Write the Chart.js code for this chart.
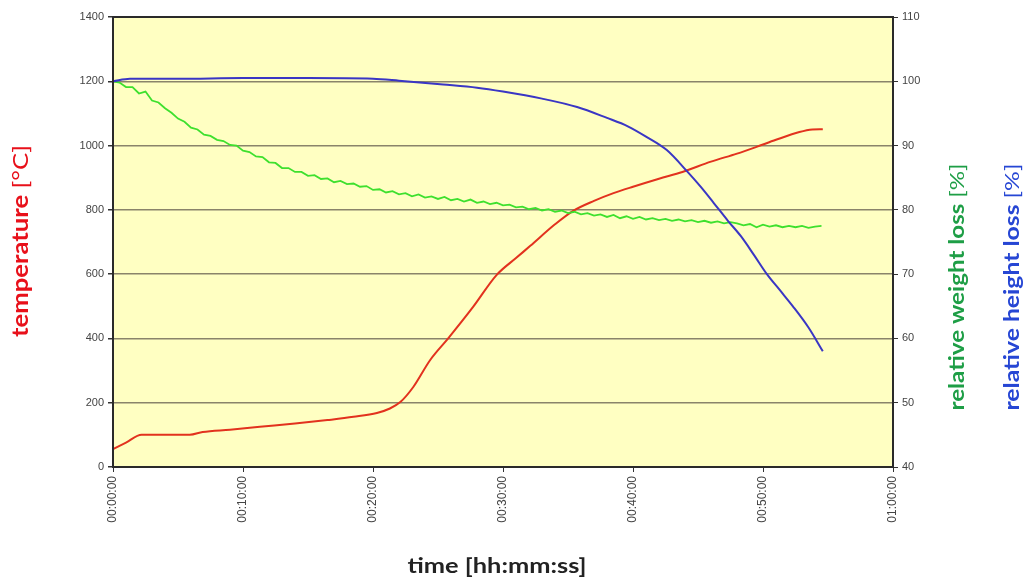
<!DOCTYPE html>
<html>
<head>
<meta charset="utf-8">
<script src="https://cdn.jsdelivr.net/npm/chart.js@4.4.1/dist/chart.umd.min.js"></script>
<style>
  html,body{margin:0;padding:0;background:#fff;}
  #wrap{width:1023px;height:580px;}
</style>
</head>
<body>
<div id="wrap"><canvas id="chart" width="1023" height="580"></canvas></div>
<script>
// --- Data (time in minutes) ---
const tempTime = [0,1,2.2,4,5.9,6.9,9,11.3,14,16.5,18.5,20.3,21.3,22.1,23.1,24.4,25.8,27.7,29.5,31,32.1,34,35.4,37,38.5,40,42,43.8,46,48,49.5,51,52.8,53.8,54.6];
const tempVals = [56,76,100,100,100,109,116,125,135,146,156,168,182,202,249,333,401,498,597,650,688,755,797,828,852,872,897,918,950,975,996,1018,1042,1050,1051];

const weightTime = [0,0.5,1,1.5,2,2.5,3,3.5,4,4.5,5,5.5,6,6.5,7,7.5,8,8.5,9,9.5,10,10.5,11,11.5,12,12.5,13,13.5,14,14.5,15,15.5,16,16.5,17,17.5,18,18.5,19,19.5,20,20.5,21,21.5,22,22.5,23,23.5,24,24.5,25,25.5,26,26.5,27,27.5,28,28.5,29,29.5,30,30.5,31,31.5,32,32.5,33,33.5,34,34.5,35,35.5,36,36.5,37,37.5,38,38.5,39,39.5,40,40.5,41,41.5,42,42.5,43,43.5,44,44.5,45,45.5,46,46.5,47,47.5,48,48.5,49,49.5,50,50.5,51,51.5,52,52.5,53,53.5,54,54.5];
const weightVals = [100.0,99.8,99.1,99.1,98.1,98.4,97.0,96.7,95.8,95.1,94.2,93.7,92.8,92.5,91.7,91.5,90.9,90.7,90.1,90.0,89.2,89.0,88.3,88.2,87.4,87.3,86.5,86.5,85.9,85.9,85.3,85.4,84.8,84.9,84.3,84.5,84.0,84.1,83.6,83.7,83.1,83.2,82.7,82.9,82.4,82.6,82.1,82.4,81.9,82.1,81.7,82.0,81.5,81.7,81.3,81.6,81.1,81.3,80.9,81.1,80.7,80.8,80.4,80.5,80.1,80.3,79.9,80.1,79.7,79.9,79.5,79.7,79.3,79.5,79.1,79.3,78.9,79.2,78.7,79.0,78.6,78.9,78.5,78.7,78.4,78.6,78.3,78.5,78.2,78.4,78.1,78.3,78.0,78.2,77.9,78.1,77.9,77.6,77.8,77.3,77.7,77.4,77.6,77.3,77.5,77.3,77.5,77.2,77.4,77.5];

const heightTime = [0,1.3,5,10,15,20,22,25.4,28,30,33,35.7,38,39.6,41,42.6,44.2,45.2,46.2,47.3,48.3,49.3,50.3,51.3,52.3,53.5,54.6];
const heightVals = [100,100.4,100.4,100.5,100.5,100.4,100.1,99.5,99.0,98.4,97.3,96.0,94.3,93.0,91.4,89.3,85.9,83.6,81.1,78.3,75.9,73.0,70.0,67.5,65.0,61.7,58.0];

const xTicks = [0,10,20,30,40,50,60];

function pts(t, v){ return t.map((x,i)=>({x:x, y:v[i]})); }
function hms(m){
  const h = Math.floor(m/60), mm = m%60;
  return String(h).padStart(2,'0')+':'+String(mm).padStart(2,'0')+':00';
}

// --- Plot background + frame + axis titles ---
const decor = {
  id:'decor',
  beforeDraw(c){
    const {ctx, chartArea:a} = c;
    ctx.save(); ctx.fillStyle='#ffffc2';
    ctx.fillRect(a.left,a.top,a.right-a.left,a.bottom-a.top); ctx.restore();
  },
  afterDraw(c){
    const {ctx, chartArea:a} = c;
    ctx.save();
    ctx.strokeStyle='#2a2a2a'; ctx.lineWidth=2;
    ctx.strokeRect(a.left,a.top,a.right-a.left,a.bottom-a.top);
    ctx.restore();
    // mixed-weight titles, stretched to the length seen in the original
    function title(parts, cx, cy, rot, len){
      ctx.save(); ctx.translate(cx,cy); ctx.rotate(rot);
      ctx.textBaseline='middle';
      let w=0; parts.forEach(p=>{ctx.font=p.f; w+=ctx.measureText(p.t).width;});
      ctx.scale(len/w,1);
      let x=-w/2;
      parts.forEach(p=>{ctx.font=p.f; ctx.fillStyle=p.c; ctx.fillText(p.t,x,0); x+=ctx.measureText(p.t).width;});
      ctx.restore();
    }
    const B='bold 22px Lato', N='22px Lato';
    title([{t:'temperature ',f:B,c:'#e8101a'},{t:'[°C]',f:N,c:'#e8101a'}], 21, 241, -Math.PI/2, 192);
    title([{t:'time [hh:mm:ss]',f:'bold 20px Lato',c:'#222'}], 497, 567, 0, 179);
    const B2='bold 20px Lato', N2='20px Lato';
    title([{t:'relative weight loss ',f:B2,c:'#1e9e46'},{t:'[%]',f:N2,c:'#1e9e46'}], 958, 287, -Math.PI/2, 247);
    title([{t:'relative height loss ',f:B2,c:'#2646d4'},{t:'[%]',f:N2,c:'#2646d4'}], 1013, 287, -Math.PI/2, 247);
  }
};

const tickFont = {family:'Liberation Sans', size:11};
const plain = v=>String(v);

new Chart(document.getElementById('chart'),{
  type:'line',
  data:{datasets:[
    {label:'temperature', data:pts(tempTime,tempVals), yAxisID:'y', borderColor:'#e2321e', borderWidth:2, pointRadius:0, cubicInterpolationMode:'monotone', order:3},
    {label:'relative weight loss', data:pts(weightTime,weightVals), yAxisID:'y1', borderColor:'#3ee02e', borderWidth:1.8, pointRadius:0, tension:0, order:2},
    {label:'relative height loss', data:pts(heightTime,heightVals), yAxisID:'y1', borderColor:'#3a36c4', borderWidth:2, pointRadius:0, cubicInterpolationMode:'monotone', order:1}
  ]},
  options:{
    responsive:false, animation:false, devicePixelRatio:1,
    layout:{padding:{top:17,left:0,right:0,bottom:0}},
    plugins:{legend:{display:false}, tooltip:{enabled:false}},
    scales:{
      x:{type:'linear', min:0, max:60,
        afterBuildTicks(s){ s.ticks = xTicks.map(v=>({value:v})); },
        afterFit(s){ s.height = 113; },
        ticks:{minRotation:90, maxRotation:90, color:'#444', font:{family:'Liberation Sans', size:12}, padding:4, callback:v=>hms(v)},
        grid:{drawOnChartArea:false, tickLength:5, color:'#333'},
        border:{color:'#2a2a2a', width:2}
      },
      y:{position:'left', min:0, max:1400,
        afterFit(s){ s.width = 113; },
        ticks:{stepSize:200, color:'#444', font:tickFont, padding:4, callback:plain},
        grid:{color:'#8a846a', lineWidth:1.5, tickLength:5, tickColor:'#333', drawTicks:true},
        border:{color:'#2a2a2a', width:2}
      },
      y1:{position:'right', min:40, max:110,
        afterFit(s){ s.width = 130; },
        ticks:{stepSize:10, color:'#444', font:tickFont, padding:4, callback:plain},
        grid:{drawOnChartArea:false, tickLength:5, color:'#333'},
        border:{color:'#2a2a2a', width:2}
      }
    }
  },
  plugins:[decor]
});
</script>
</body>
</html>
